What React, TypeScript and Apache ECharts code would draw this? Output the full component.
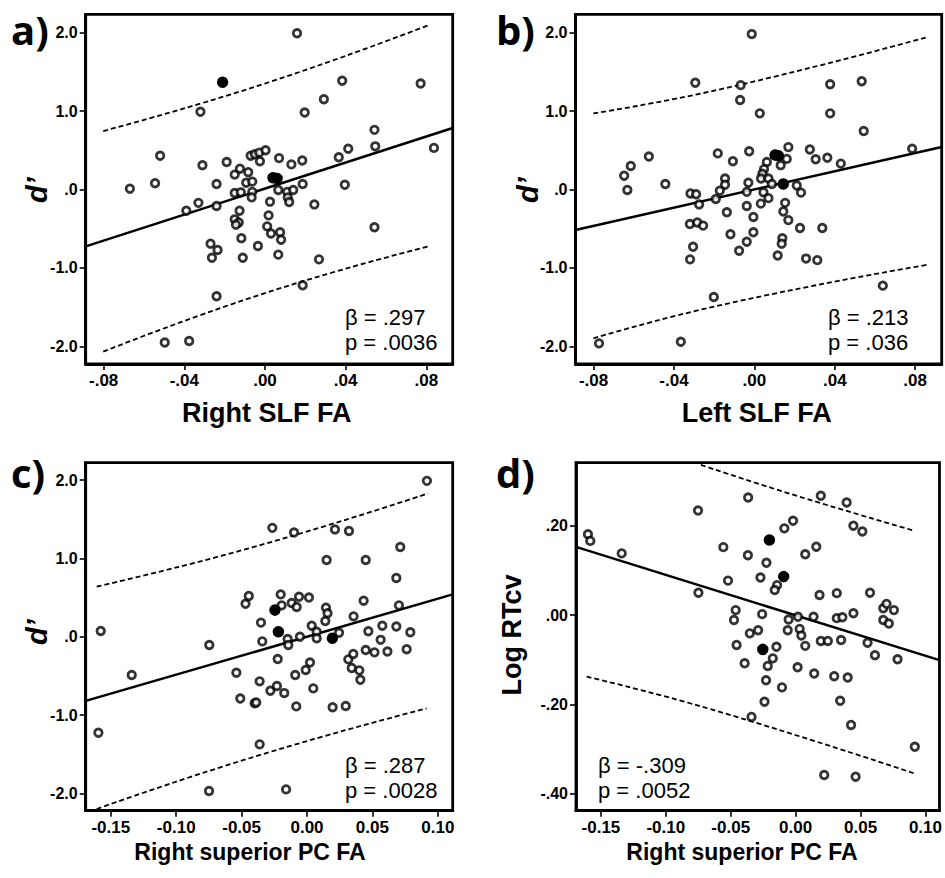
import React, { useEffect, useRef } from "react";
import * as echarts from "echarts";

// ---------- data ----------
// Panel a: d' vs Right SLF FA
const aOpen: number[][] = [
  [-0.032, 0.99], [-0.052, 0.43], [-0.067, 0.01], [-0.0545, 0.08], [-0.031, 0.31], [-0.019, 0.35],
  [-0.024, 0.07], [-0.033, -0.17], [-0.039, -0.27], [-0.024, -0.21], [-0.015, -0.045], [-0.012, -0.036],
  [-0.015, 0.19], [-0.0124, 0.265], [-0.0083, 0.22], [-0.0093, 0.087], [-0.0063, 0.1], [-0.0063, -0.03],
  [-0.0066, -0.1], [-0.0071, 0.43], [-0.005, 0.45], [-0.0028, 0.47], [0.0003, 0.5], [-0.0025, 0.36],
  [-0.0126, -0.27], [-0.015, -0.38], [-0.013, -0.42], [-0.0144, -0.45], [-0.0117, -0.62], [-0.027, -0.69],
  [-0.0235, -0.77], [-0.0263, -0.87], [-0.011, -0.87], [-0.0035, -0.72], [0.0025, -0.155], [0.0018, -0.33],
  [0.0011, -0.47], [0.003, -0.56], [-0.024, -1.36], [-0.0497, -1.95], [-0.0376, -1.93], [0.0066, -0.83],
  [0.007, 0.4], [0.0159, 1.99], [0.0383, 1.386], [0.0772, 1.35], [0.0292, 1.15], [0.0197, 0.98],
  [0.0543, 0.76], [0.0547, 0.55], [0.0838, 0.53], [0.0413, 0.52], [0.0366, 0.41], [0.0131, 0.32],
  [0.0185, 0.37], [0.0066, -0.006], [0.011, -0.03], [0.014, -0.006], [0.0187, 0.07], [0.0113, -0.1],
  [0.012, -0.16], [0.0245, -0.19], [0.0396, 0.06], [0.0075, -0.545], [0.008, -0.64], [0.0543, -0.48],
  [0.0268, -0.89], [0.0187, -1.22],
];
const aFilled: number[][] = [[-0.021, 1.366], [0.004, 0.15], [0.006, 0.14]];
const aFit: number[][] = [[-0.0889, -0.725], [0.0931, 0.784]];
const aUpper: number[][] = [[-0.0802, 0.745], [0, 1.35], [0.0818, 2.1]];
const aLower: number[][] = [[-0.0802, -2.066], [0, -1.32], [0.0818, -0.72]];

// Panel b: d' vs Left SLF FA
const bOpen: number[][] = [
  [-0.0294, 1.36], [-0.0648, 0.176], [-0.0615, 0.3], [-0.0632, -0.006], [-0.0525, 0.42], [-0.0443, 0.07],
  [-0.0318, -0.05], [-0.029, -0.06], [-0.0275, -0.19], [-0.0321, -0.44], [-0.0284, -0.42], [-0.0255, -0.46],
  [-0.0305, -0.73], [-0.032, -0.89], [-0.0182, 0.46], [-0.0107, 0.36], [-0.0146, 0.14], [-0.0146, 0.06],
  [-0.0172, -0.015], [-0.0192, -0.12], [-0.0137, -0.29], [-0.0119, -0.57], [-0.0202, -1.37], [-0.0366, -1.94],
  [-0.0773, -1.96], [-0.0013, 1.98], [-0.0068, 1.33], [-0.0071, 1.14], [0.0027, 0.97], [0.0377, 1.34],
  [0.0534, 1.38], [0.0377, 0.97], [0.0544, 0.745], [-0.0026, 0.487], [0.0169, 0.54], [0.0276, 0.51],
  [0.0305, 0.385], [0.0363, 0.405], [0.043, 0.33], [0.0161, 0.39], [0.0131, 0.31], [0.0062, 0.35],
  [0.0048, 0.26], [0.004, 0.2], [0.0033, 0.14], [0.007, 0.14], [0.0087, 0.07], [0.0211, 0.05],
  [0.0232, -0.04], [-0.003, 0.087], [-0.0038, -0.03], [0.0045, -0.035], [0.007, -0.11], [0.0032, -0.18],
  [-0.0038, -0.21], [-0.0005, -0.35], [0.0153, -0.17], [0.0144, -0.28], [0.0169, -0.39], [0.0227, -0.49],
  [0.0338, -0.49], [-0.0005, -0.545], [-0.0038, -0.665], [-0.0076, -0.78], [0.0139, -0.62], [0.0136, -0.69],
  [0.0116, -0.84], [0.0257, -0.88], [0.0313, -0.9], [0.0639, -1.225], [0.0785, 0.52],
];
const bFilled: number[][] = [[0.0103, 0.44], [0.0119, 0.43], [0.0144, 0.07]];
const bFit: number[][] = [[-0.089, -0.517], [0.0932, 0.541]];
const bUpper: number[][] = [[-0.0801, 0.97], [-0.0146, 1.29], [0.0858, 1.94]];
const bLower: number[][] = [[-0.0801, -1.896], [-0.0146, -1.46], [0.0858, -0.96]];

// Panel c: d' vs Right superior PC FA
const cOpen: number[][] = [
  [-0.1577, 0.073], [-0.1595, -1.226], [-0.134, -0.49], [-0.0747, -0.106], [-0.0749, -1.97], [-0.054, -0.46],
  [-0.051, -0.79], [-0.047, 0.42], [-0.0445, 0.52], [-0.04, -0.85], [0.0917, 1.99], [-0.0265, 1.39],
  [-0.0099, 1.33], [0.0214, 1.37], [0.0321, 1.35], [0.0713, 1.146], [0.015, 0.98], [0.0449, 0.98],
  [0.0683, 0.75], [-0.0201, 0.54], [-0.0194, 0.4], [-0.0117, 0.43], [-0.0079, 0.38], [-0.0061, 0.51],
  [0.0015, 0.5], [0.0433, 0.46], [0.0703, 0.4], [0.0145, 0.37], [0.0157, 0.3], [0.014, 0.2],
  [-0.0352, 0.18], [0.0036, 0.14], [0.0074, 0.064], [0.0074, -0.02], [0.0245, 0.05], [0.0356, 0.26],
  [0.0469, 0.07], [0.0576, 0.14], [0.0683, 0.13], [0.079, 0.056], [0.0563, -0.04], [-0.0342, -0.06],
  [-0.0148, -0.03], [-0.0143, -0.106], [-0.0054, 0.0], [0.0449, -0.17], [0.0516, -0.2], [0.0615, -0.19],
  [0.0762, -0.16], [-0.0224, -0.285], [0.0316, -0.29], [0.0354, -0.22], [0.0342, -0.4], [0.04, -0.43],
  [0.0408, -0.55], [0.0023, -0.33], [-0.001, -0.425], [-0.009, -0.49], [-0.0362, -0.57], [-0.028, -0.69],
  [-0.023, -0.63], [-0.0174, -0.72], [0.0048, -0.66], [-0.0388, -0.84], [-0.0082, -0.89], [0.0196, -0.9],
  [0.0296, -0.885], [-0.0362, -1.375], [-0.016, -1.95],
];
const cFilled: number[][] = [[-0.0245, 0.34], [-0.0219, 0.064], [0.0194, -0.02]];
const cFit: number[][] = [[-0.1692, -0.82], [0.1114, 0.54]];
const cUpper: number[][] = [[-0.1608, 0.64], [-0.0398, 1.15], [0.0927, 1.83]];
const cLower: number[][] = [[-0.1608, -2.2], [-0.0398, -1.53], [0.0915, -0.915]];

// Panel d: Log RTcv vs Right superior PC FA
const dOpen: number[][] = [
  [-0.16, 0.181], [-0.1582, 0.166], [-0.134, 0.138], [-0.0752, 0.234], [-0.0749, 0.05], [-0.0557, 0.152],
  [-0.0366, 0.263], [0.0194, 0.267], [0.0393, 0.252], [0.0445, 0.2], [0.0514, 0.187], [-0.0087, 0.194],
  [-0.002, 0.211], [-0.0368, 0.134], [-0.0225, 0.117], [0.0074, 0.136], [0.0159, 0.153], [-0.0521, 0.077],
  [-0.0271, 0.084], [-0.0143, 0.067], [-0.0161, 0.056], [0.0184, 0.045], [0.0317, 0.049], [0.0573, 0.05],
  [-0.0462, 0.011], [-0.0475, -0.011], [-0.0258, 0.002], [-0.0054, -0.01], [0.0018, -0.004], [0.0138, -0.004],
  [0.0317, -0.007], [0.036, -0.005], [0.0445, 0.004], [0.0675, 0.015], [0.07, 0.025], [0.0757, 0.011],
  [0.0675, -0.011], [0.0718, -0.019], [-0.0353, -0.041], [-0.0289, -0.034], [-0.0061, -0.034], [0.0031, -0.031],
  [0.0044, -0.046], [-0.0455, -0.067], [-0.0148, -0.071], [0.0074, -0.069], [0.0194, -0.058], [0.0248, -0.058],
  [0.035, -0.056], [0.0554, -0.062], [0.0611, -0.09], [0.0785, -0.099], [-0.0176, -0.097], [-0.0215, -0.114],
  [-0.0393, -0.108], [0.0015, -0.117], [0.0143, -0.131], [0.0297, -0.137], [0.0401, -0.14], [-0.0228, -0.146],
  [-0.0105, -0.162], [-0.024, -0.194], [0.0343, -0.192], [-0.034, -0.228], [0.0427, -0.246], [0.0918, -0.295],
  [0.022, -0.358], [0.0462, -0.362],
];
const dFilled: number[][] = [[-0.0202, 0.168], [-0.0092, 0.086], [-0.0253, -0.077]];
const dFit: number[][] = [[-0.1692, 0.1526], [0.1108, -0.101]];
const dUpper: number[][] = [[-0.073, 0.336], [-0.0015, 0.269], [0.0898, 0.19]];
const dLower: number[][] = [[-0.161, -0.138], [-0.0628, -0.213], [0.0917, -0.355]];

// tick values
const slfTicks = [-0.08, -0.04, 0, 0.04, 0.08];
const pcTicks = [-0.15, -0.1, -0.05, 0, 0.05, 0.1];
const dprimeTicks = [-2, -1, 0, 1, 2];
const rtTicks = [-0.4, -0.2, 0, 0.2];

// stats text
const stats = [
  ["β = .297", "p = .0036"],
  ["β = .213", "p = .036"],
  ["β = .287", "p = .0028"],
  ["β = -.309", "p = .0052"],
];
const panelLetters = ["a)", "b)", "c)", "d)"];
const xTitles = ["Right SLF FA", "Left SLF FA", "Right superior PC FA", "Right superior PC FA"];
const yTitles = ["d’", "d’", "d’", "Log RTcv"];

const FONT = "'Liberation Sans', Arial, Helvetica, sans-serif";

const strip0 = (s: string) => s.replace(/^(-?)0\./, "$1.");
const fmtSlf = (v: number) => strip0(v.toFixed(2));
const fmtPc = (v: number) => v.toFixed(2);
const fmtD = (v: number) => (Math.abs(v) < 1e-9 ? ".0" : v.toFixed(1));
const fmtRt = (v: number) => strip0((Math.abs(v) < 1e-9 ? 0 : v).toFixed(2));

const panels = [
  { grid: { left: 85.7, top: 14.3, width: 367, height: 349.7 }, x: [-0.0889, 0.0931], y: [-2.223, 2.232],
    xt: slfTicks, yt: dprimeTicks, xf: fmtSlf, yf: fmtD, open: aOpen, filled: aFilled, fit: aFit, up: aUpper, lo: aLower },
  { grid: { left: 575.5, top: 14.3, width: 366.2, height: 349.7 }, x: [-0.089, 0.0932], y: [-2.223, 2.232],
    xt: slfTicks, yt: dprimeTicks, xf: fmtSlf, yf: fmtD, open: bOpen, filled: bFilled, fit: bFit, up: bUpper, lo: bLower },
  { grid: { left: 85.7, top: 462.7, width: 367, height: 348 }, x: [-0.1692, 0.1114], y: [-2.222, 2.222],
    xt: pcTicks, yt: dprimeTicks, xf: fmtPc, yf: fmtD, open: cOpen, filled: cFilled, fit: cFit, up: cUpper, lo: cLower },
  { grid: { left: 576, top: 462.7, width: 365.7, height: 348 }, x: [-0.1692, 0.1108], y: [-0.438, 0.341],
    xt: pcTicks, yt: rtTicks, xf: fmtPc, yf: fmtRt, open: dOpen, filled: dFilled, fit: dFit, up: dUpper, lo: dLower },
];

function buildOption() {
  const grid: any[] = [];
  const xAxis: any[] = [];
  const yAxis: any[] = [];
  const series: any[] = [];
  panels.forEach((p, i) => {
    grid.push({ ...p.grid, show: true, borderColor: "#000", borderWidth: 2.8, backgroundColor: "transparent" });
    const axisCommon = {
      gridIndex: i,
      type: "value",
      splitLine: { show: false },
      axisLine: { show: true, onZero: false, lineStyle: { color: "#000", width: 2.8 } },
      axisTick: { show: true, inside: false, length: 6, lineStyle: { color: "#000", width: 1.6 } },
    };
    xAxis.push({
      ...axisCommon,
      min: p.x[0], max: p.x[1],
      axisTick: { ...axisCommon.axisTick, customValues: p.xt },
      axisLabel: { customValues: p.xt, formatter: p.xf, color: "#000", fontFamily: FONT, fontWeight: "bold", fontSize: 17, margin: 8 },
    });
    yAxis.push({
      ...axisCommon,
      min: p.y[0], max: p.y[1],
      axisTick: { ...axisCommon.axisTick, customValues: p.yt },
      axisLabel: { customValues: p.yt, formatter: p.yf, color: "#000", fontFamily: FONT, fontWeight: "bold", fontSize: 16, margin: 8 },
    });
    series.push({
      type: "line", xAxisIndex: i, yAxisIndex: i, data: p.fit, showSymbol: false, symbol: "none",
      lineStyle: { color: "#000", width: 2.5 }, z: 2, silent: true,
    });
    [p.up, p.lo].forEach((band) => {
      series.push({
        type: "line", xAxisIndex: i, yAxisIndex: i, data: band, showSymbol: false, symbol: "none", smooth: 0.5,
        lineStyle: { color: "#000", width: 1.8, type: [5, 3] }, z: 2, silent: true,
      });
    });
    series.push({
      type: "scatter", xAxisIndex: i, yAxisIndex: i, data: p.open, symbol: "circle", symbolSize: 7.5,
      itemStyle: { color: "#fff", borderColor: "#000", borderWidth: 2.8 }, z: 3,
    });
    series.push({
      type: "scatter", xAxisIndex: i, yAxisIndex: i, data: p.filled, symbol: "circle", symbolSize: 10,
      itemStyle: { color: "#000", borderColor: "#000", borderWidth: 1.5, opacity: 1 }, z: 4,
    });
  });

  const statPos = [
    [345, 317, 342],
    [828, 317, 342],
    [345, 765, 790],
    [598, 765, 790],
  ];
  const letterPos = [[11, 29], [496, 29], [11, 472], [496, 472]];
  const xTitlePos = [[266.7, 413, 27], [756.7, 413, 27], [250, 852, 23], [742, 852, 23]];
  const yTitlePos = [[37, 190, 29], [528, 190, 29], [37, 632, 29], [512, 635, 27]];

  const graphic: any[] = [];
  stats.forEach((s, i) => {
    graphic.push({ type: "text", x: statPos[i][0], y: statPos[i][1],
      style: { text: s[0], font: `22px ${FONT}`, fill: "#000", textAlign: "left", textVerticalAlign: "middle" } });
    graphic.push({ type: "text", x: statPos[i][0], y: statPos[i][2],
      style: { text: s[1], font: `22px ${FONT}`, fill: "#000", textAlign: "left", textVerticalAlign: "middle" } });
  });
  panelLetters.forEach((t, i) => {
    graphic.push({ type: "text", x: letterPos[i][0], y: letterPos[i][1],
      style: { text: t, font: `bold 40px 'Open Sans', Lato, sans-serif`, fill: "#000", textAlign: "left", textVerticalAlign: "middle" } });
  });
  xTitles.forEach((t, i) => {
    graphic.push({ type: "text", x: xTitlePos[i][0], y: xTitlePos[i][1],
      style: { text: t, font: `bold ${xTitlePos[i][2]}px ${FONT}`, fill: "#000", textAlign: "center", textVerticalAlign: "middle" } });
  });
  yTitles.forEach((t, i) => {
    const italic = i < 3 ? "italic " : "";
    graphic.push({ type: "text", x: yTitlePos[i][0], y: yTitlePos[i][1], rotation: Math.PI / 2,
      style: { text: t, font: `${italic}bold ${yTitlePos[i][2]}px ${FONT}`, fill: "#000", textAlign: "center", textVerticalAlign: "middle" } });
  });

  return {
    animation: false,
    backgroundColor: "#fff",
    grid, xAxis, yAxis, series, graphic,
  };
}

export default function App() {
  const ref = useRef<HTMLDivElement>(null);
  useEffect(() => {
    if (!ref.current) return;
    const chart = echarts.init(ref.current, null, { renderer: "svg" });
    chart.setOption(buildOption() as any);
    return () => chart.dispose();
  }, []);
  return (
    <div
      ref={ref}
      style={{ position: "absolute", left: 0, top: 0, width: 945, height: 878, background: "#fff" }}
    />
  );
}
